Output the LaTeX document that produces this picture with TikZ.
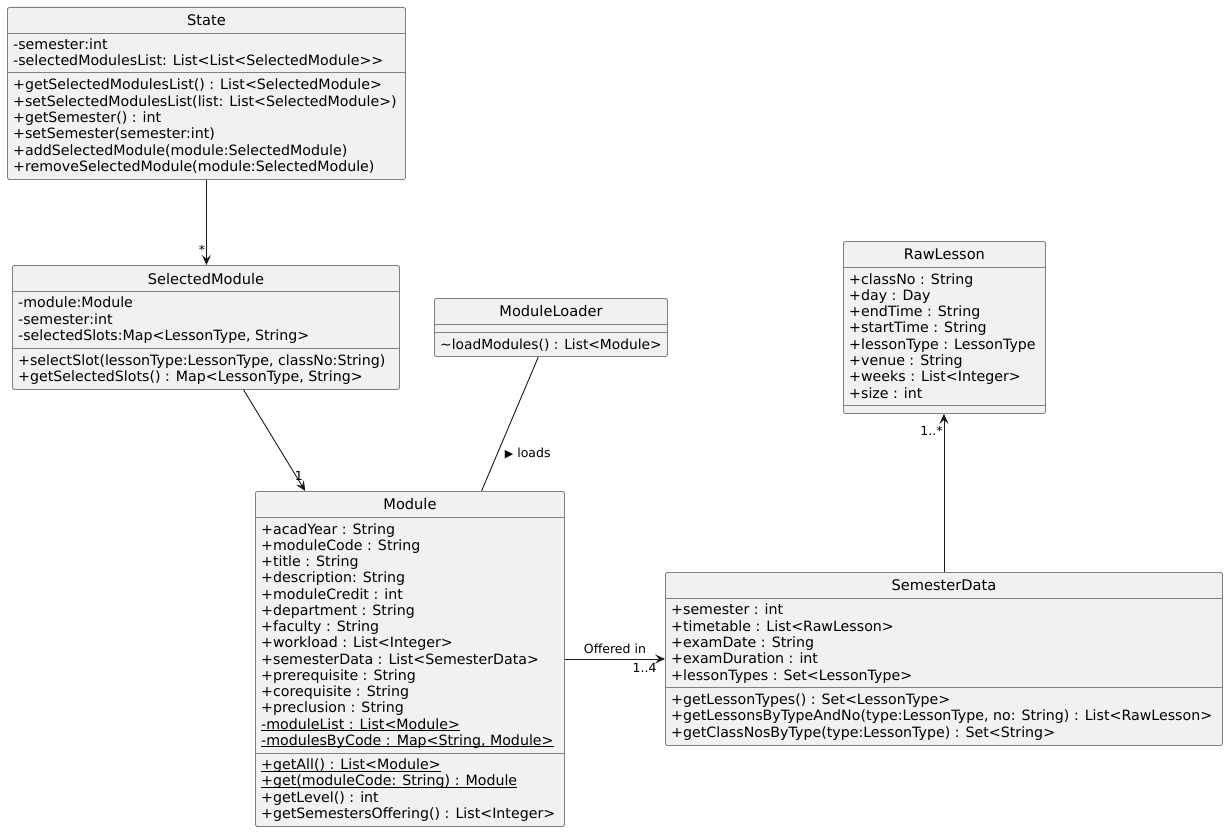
\documentclass[tikz,border=0pt]{standalone}
\usepackage{fontspec}
\setmainfont{DejaVu Sans}
\usepackage{tikz}
\usetikzlibrary{arrows.meta,calc}
\definecolor{boxfill}{HTML}{F1F1F1}
\definecolor{boxline}{HTML}{808080}
\definecolor{linkline}{HTML}{181818}

\begin{document}
\begin{tikzpicture}[x=1pt, y=-1pt,
	classbox/.style={draw=boxline, fill=boxfill, line width=0.9pt, rounded corners=2pt, anchor=north west, inner sep=0pt},
	classname/.style={anchor=base, inner sep=0pt, font=\fontsize{14.6}{16}\selectfont},
	member/.style={anchor=base west, inner sep=0pt, font=\fontsize{14.2}{16}\selectfont},
	divider/.style={draw=boxline, line width=0.9pt},
	assoc/.style={draw=linkline, line width=0.9pt, -{Stealth[length=10pt, width=9pt, inset=4pt]}},
	link/.style={draw=linkline, line width=0.9pt},
	lbl/.style={inner sep=1pt, font=\fontsize{12.5}{14}\selectfont}]
						\useasboundingbox (0,0) rectangle (1228,832);
						\node[classbox, minimum width=398, minimum height=172] (state) at (7,7) {};
						\node[classname] (state-name) at (state.north |- 0,25.5) {State};
						\draw[divider] (state.west |- 0,33) -- (state.east |- 0,33);
						\foreach \t [count=\i] in {-semester:int, -selectedModulesList: List<List<SelectedModule>{}>}
						    \node[member] (state-a\i) at (13, 49.7+16.3*\i-16.3) {\t};
						\draw[divider] (state.west |- 0,72.5) -- (state.east |- 0,72.5);
						\foreach \t [count=\i] in {+getSelectedModulesList() : List<SelectedModule>,
						    +setSelectedModulesList(list: List<SelectedModule>), +getSemester() : int,
						    +setSemester(semester:int), +addSelectedModule(module:SelectedModule),
						    +removeSelectedModule(module:SelectedModule)}
						    \node[member] (state-m\i) at (13, 89.8+16.3*\i-16.3) {\t};
						\node[classbox, minimum width=387, minimum height=124] (selmod) at (12,265) {};
						\node[classname] (selmod-name) at (selmod.north |- 0,284) {SelectedModule};
						\draw[divider] (selmod.west |- 0,291.5) -- (selmod.east |- 0,291.5);
						\foreach \t [count=\i] in {-module:Module, -semester:int, {-selectedSlots:Map<LessonType, String>}}
						    \node[member] (selmod-a\i) at (18, 307.7+16.3*\i-16.3) {\t};
						\draw[divider] (selmod.west |- 0,348) -- (selmod.east |- 0,348);
						\foreach \t [count=\i] in {{+selectSlot(lessonType:LessonType, classNo:String)},
						    {+getSelectedSlots() : Map<LessonType, String>}}
						    \node[member] (selmod-m\i) at (18, 365.5+16.3*\i-16.3) {\t};
						\node[classbox, minimum width=233, minimum height=58] (loader) at (434,298) {};
						\node[classname] (loader-name) at (loader.north |- 0,316) {ModuleLoader};
						\draw[divider] (loader.west |- 0,324) -- (loader.east |- 0,324);
						\draw[divider] (loader.west |- 0,332) -- (loader.east |- 0,332);
						\node[member, font=\fontsize{13.8}{16}\selectfont] (loader-m1) at (440,349.5) {\textasciitilde loadModules() : List<Module>};
						\node[classbox, minimum width=309, minimum height=335] (module) at (255,491) {};
						\node[classname] (module-name) at (module.north |- 0,509) {Module};
						\draw[divider] (module.west |- 0,517.5) -- (module.east |- 0,517.5);
						\foreach \t [count=\i] in {+acadYear : String, +moduleCode : String, +title : String,
						    +description: String, +moduleCredit : int, +department : String, +faculty : String,
						    +workload : List<Integer>, +semesterData : List<SemesterData>, +prerequisite : String,
						    +corequisite : String, +preclusion : String, \underline{\smash{-moduleList : List<Module>}},
						    \underline{\smash{-modulesByCode : Map<String, Module>}}}
						    \node[member] (module-a\i) at (261, 534+16.25*\i-16.25) {\t};
						\draw[divider] (module.west |- 0,753.3) -- (module.east |- 0,753.3);
						\foreach \t [count=\i] in {\underline{\smash{+getAll() : List<Module>}},
						    \underline{\smash{+get(moduleCode: String) : Module}}, +getLevel() : int,
						    +getSemestersOffering() : List<Integer>}
						    \node[member] (module-m\i) at (261, 769.7+16.25*\i-16.25) {\t};
						\node[classbox, minimum width=202, minimum height=172] (rawlesson) at (843,241) {};
						\node[classname] (rawlesson-name) at (rawlesson.north |- 0,259.5) {RawLesson};
						\draw[divider] (rawlesson.west |- 0,267.3) -- (rawlesson.east |- 0,267.3);
						\foreach \t [count=\i] in {+classNo : String, +day : Day, +endTime : String,
						    +startTime : String, +lessonType : LessonType, +venue : String,
						    +weeks : List<Integer>, +size : int}
						    \node[member] (rawlesson-a\i) at (849, 284+16.3*\i-16.3) {\t};
						\draw[divider] (rawlesson.west |- 0,405.7) -- (rawlesson.east |- 0,405.7);
						\node[classbox, minimum width=557, minimum height=173] (semdata) at (665,572) {};
						\node[classname] (semdata-name) at (semdata.north |- 0,590.5) {SemesterData};
						\draw[divider] (semdata.west |- 0,598.5) -- (semdata.east |- 0,598.5);
						\foreach \t [count=\i] in {+semester : int, +timetable : List<RawLesson>,
						    +examDate : String, +examDuration : int, +lessonTypes : Set<LessonType>}
						    \node[member] (semdata-a\i) at (671, 614.8+16.3*\i-16.3) {\t};
						\draw[divider] (semdata.west |- 0,687) -- (semdata.east |- 0,687);
						\foreach \t [count=\i] in {+getLessonTypes() : Set<LessonType>,
						    {+getLessonsByTypeAndNo(type:LessonType, no: String) : List<RawLesson>},
						    +getClassNosByType(type:LessonType) : Set<String>}
						    \node[member] (semdata-m\i) at (671, 704.5+16.3*\i-16.3) {\t};
						\draw[assoc] (state.south) -- (state.south |- selmod.north)
						    node[lbl, pos=0.82, left=0pt] (state-mult) {*};
						\draw[assoc] ($(selmod.south west)!0.597!(selmod.south east)$) -- ($(module.north west)!0.162!(module.north east)$)
						    node[lbl, pos=0.85, xshift=3pt] (selmod-mult) {1};
						\draw[link] ($(loader.south west)!0.446!(loader.south east)$) -- ($(module.north west)!0.731!(module.north east)$)
						    node[lbl, pos=0.72, right=6pt] (loads) {{\fontsize{11}{11}\selectfont ▶} loads};
						\draw[assoc] (module.east) -- (semdata.west)
						    node[lbl, midway, above=4pt] (offered) {Offered in}
						    node[lbl, pos=1, anchor=north east, xshift=-7pt, yshift=-3pt] (semdata-mult) {1..4};
						\draw[assoc] (semdata.north) -- (semdata.north |- rawlesson.south)
						    node[lbl, pos=0.89, left=0pt] (rawlesson-mult) {1..*};
						\end{tikzpicture}
\end{document}
